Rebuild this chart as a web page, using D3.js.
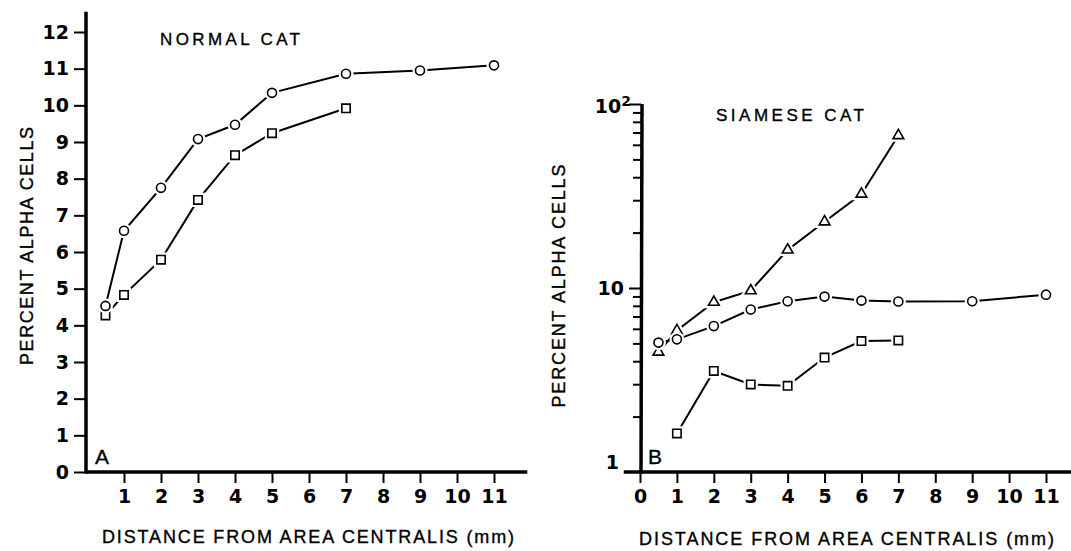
<!DOCTYPE html>
<html>
<head>
<meta charset="utf-8">
<script src="https://cdn.jsdelivr.net/npm/d3@7"></script>
<style>
  body { margin: 0; background: #fff; }
  svg { display: block; }
  .tickLabel { font-family: "DejaVu Sans", sans-serif; font-weight: bold; font-size: 19px; fill: #000; }
  .axisText { font-family: "Liberation Sans", Arial, sans-serif; fill: #000; stroke: #000; stroke-width: 0.35px; }
</style>
</head>
<body>
<div class="chart"></div>
<script>
// panel A: normal cat (linear y)
var distNormalCircle = [0.5, 1, 2, 3, 4, 5, 7, 9, 11];
var normalCircle = [4.53, 6.58, 7.75, 9.08, 9.47, 10.34, 10.86, 10.95, 11.09];
var distNormalSquare = [0.5, 1, 2, 3, 4, 5, 7];
var normalSquare = [4.27, 4.83, 5.79, 7.42, 8.64, 9.24, 9.92];

// panel B: siamese cat (log y)
var distSiameseTriangle = [0.5, 1, 2, 3, 4, 5, 6, 7];
var siameseTriangle = [4.49, 5.87, 8.37, 9.67, 16.1, 22.9, 32.4, 67.4];
var distSiameseCircle = [0.5, 1, 2, 3, 4, 5, 6, 7, 9, 11];
var siameseCircle = [5.05, 5.26, 6.21, 7.64, 8.47, 8.98, 8.54, 8.44, 8.47, 9.2];
var distSiameseSquare = [1, 2, 3, 4, 5, 6, 7];
var siameseSquare = [1.62, 3.54, 2.99, 2.94, 4.19, 5.15, 5.19];

var xTicksA = [1, 2, 3, 4, 5, 6, 7, 8, 9, 10, 11];
var yTicksA = [0, 1, 2, 3, 4, 5, 6, 7, 8, 9, 10, 11, 12];
var xTicksB = [0, 1, 2, 3, 4, 5, 6, 7, 8, 9, 10, 11];
var yMajorB = [1, 10, 100];
var yMinorB = [2, 3, 4, 5, 6, 7, 8, 9, 20, 30, 40, 50, 60, 70, 80, 90];

var svgWidth = 1071;
var svgHeight = 551;

var svg = d3.select(".chart")
  .append("svg")
  .attr("width", svgWidth)
  .attr("height", svgHeight);

// scales
var xA = d3.scaleLinear().domain([0, 11]).range([87, 494]);
var yA = d3.scaleLinear().domain([0, 12]).range([472, 32]);
var xB = d3.scaleLinear().domain([0, 11]).range([640, 1046]);
var yB = d3.scaleLog().domain([1, 100]).range([472, 104]);

function zip(xs, ys) {
  return xs.map((x, i) => ({x: x, y: ys[i]}));
}

function styleAxis(g) {
  g.select(".domain").remove();
  g.selectAll(".tick line").attr("stroke", "#000").attr("stroke-width", 2);
  g.selectAll(".tick text").attr("class", "tickLabel");
}

// ---- panel A axes
var gA = svg.append("g");

gA.append("g")
  .attr("transform", `translate(0, ${yA(0)})`)
  .call(d3.axisBottom(xA).tickValues(xTicksA).tickSize(11).tickPadding(7).tickFormat(d3.format("d")))
  .call(styleAxis);

gA.append("g")
  .attr("transform", `translate(${xA(0) - 1}, 0)`)
  .call(d3.axisLeft(yA).tickValues(yTicksA).tickSize(12).tickPadding(5).tickFormat(d3.format("d")))
  .call(styleAxis);

gA.append("line")
  .attr("x1", xA(-0.03)).attr("x2", xA(11.9))
  .attr("y1", yA(0)).attr("y2", yA(0))
  .attr("stroke", "#000").attr("stroke-width", 3.5);

gA.append("line")
  .attr("x1", xA(0) - 1).attr("x2", xA(0) - 1)
  .attr("y1", yA(0) + 1.5).attr("y2", yA(12.55))
  .attr("stroke", "#000").attr("stroke-width", 3.5);

// ---- panel B axes
var gB = svg.append("g");

gB.append("g")
  .attr("transform", `translate(0, ${yB(1)})`)
  .call(d3.axisBottom(xB).tickValues(xTicksB).tickSize(11).tickPadding(7).tickFormat(d3.format("d")))
  .call(styleAxis);

gB.append("g")
  .attr("transform", `translate(${xB(0) + 1}, 0)`)
  .call(d3.axisLeft(yB).tickValues(yMinorB).tickSize(8).tickFormat(""))
  .call(styleAxis);

var majorAxisB = gB.append("g")
  .attr("transform", `translate(${xB(0) + 1}, 0)`)
  .call(d3.axisLeft(yB).tickValues(yMajorB).tickSize(12).tickPadding(5).tickFormat(d => d === 100 ? "" : d3.format("d")(d)))
  .call(styleAxis);

// the "1" tick coincides with the x axis: no tick line, label sits a bit higher
majorAxisB.selectAll(".tick").filter(d => d === 1).select("line").remove();
majorAxisB.selectAll(".tick").filter(d => d === 1).select("text").attr("dy", "-0.2em").attr("x", -22);

// 10^2 label with superscript
var topLabel = majorAxisB.selectAll(".tick").filter(d => d === 100).select("text")
  .attr("x", -10).attr("dy", "0.45em");
topLabel.append("tspan").text("10");
topLabel.append("tspan").attr("dy", "-0.5em").attr("font-size", "14px").text("2");

gB.append("line")
  .attr("x1", xB(-0.44)).attr("x2", xB(11.8))
  .attr("y1", yB(1)).attr("y2", yB(1))
  .attr("stroke", "#000").attr("stroke-width", 3.5);

gB.append("line")
  .attr("x1", xB(0) + 1).attr("x2", xB(0) + 2)
  .attr("y1", yB(1) + 1.5).attr("y2", yB(100))
  .attr("stroke", "#000").attr("stroke-width", 3.5);

// ---- series
function drawSeries(g, data, xs, ys, shape) {
  var line = d3.line().x(d => xs(d.x)).y(d => ys(d.y));
  g.append("path")
    .datum(data)
    .attr("d", line)
    .attr("fill", "none")
    .attr("stroke", "#000")
    .attr("stroke-width", 2);

  var sym = d3.symbol()
    .type(shape === "circle" ? d3.symbolCircle : shape === "square" ? d3.symbolSquare : d3.symbolTriangle)
    .size(shape === "circle" ? 64 : shape === "square" ? 70 : 50);

  // white halo leaves a gap between line and marker
  g.selectAll(null)
    .data(data)
    .enter()
    .append("path")
    .attr("d", sym)
    .attr("transform", d => `translate(${xs(d.x)}, ${ys(d.y)})`)
    .attr("fill", "#fff")
    .attr("stroke", "#fff")
    .attr("stroke-width", 6);

  g.selectAll(null)
    .data(data)
    .enter()
    .append("path")
    .attr("d", sym)
    .attr("transform", d => `translate(${xs(d.x)}, ${ys(d.y)})`)
    .attr("fill", "#fff")
    .attr("stroke", "#000")
    .attr("stroke-width", 1.6);
}

drawSeries(gA, zip(distNormalSquare, normalSquare), xA, yA, "square");
drawSeries(gA, zip(distNormalCircle, normalCircle), xA, yA, "circle");

drawSeries(gB, zip(distSiameseSquare, siameseSquare), xB, yB, "square");
drawSeries(gB, zip(distSiameseTriangle, siameseTriangle), xB, yB, "triangle");
drawSeries(gB, zip(distSiameseCircle, siameseCircle), xB, yB, "circle");

// ---- text
gA.append("text")
  .attr("class", "axisText")
  .attr("x", 160).attr("y", 45)
  .attr("font-size", "17px")
  .attr("textLength", 140).attr("lengthAdjust", "spacing")
  .text("NORMAL  CAT");

gB.append("text")
  .attr("class", "axisText")
  .attr("x", 716).attr("y", 121)
  .attr("font-size", "17px")
  .attr("textLength", 148).attr("lengthAdjust", "spacing")
  .text("SIAMESE  CAT");

gA.append("text")
  .attr("class", "axisText")
  .attr("x", 95).attr("y", 464)
  .attr("font-size", "21px")
  .text("A");

gB.append("text")
  .attr("class", "axisText")
  .attr("x", 648).attr("y", 464)
  .attr("font-size", "21px")
  .text("B");

gA.append("text")
  .attr("class", "axisText")
  .attr("x", 102).attr("y", 543)
  .attr("font-size", "18px")
  .attr("textLength", 412).attr("lengthAdjust", "spacing")
  .text("DISTANCE  FROM  AREA  CENTRALIS  (mm)");

gB.append("text")
  .attr("class", "axisText")
  .attr("x", 639).attr("y", 545)
  .attr("font-size", "18px")
  .attr("textLength", 415).attr("lengthAdjust", "spacing")
  .text("DISTANCE  FROM  AREA  CENTRALIS  (mm)");

gA.append("text")
  .attr("class", "axisText")
  .attr("transform", "translate(33, 246) rotate(-90)")
  .attr("text-anchor", "middle")
  .attr("font-size", "18px")
  .attr("textLength", 238).attr("lengthAdjust", "spacing")
  .text("PERCENT  ALPHA  CELLS");

gB.append("text")
  .attr("class", "axisText")
  .attr("transform", "translate(565, 286) rotate(-90)")
  .attr("text-anchor", "middle")
  .attr("font-size", "18px")
  .attr("textLength", 243).attr("lengthAdjust", "spacing")
  .text("PERCENT  ALPHA  CELLS");
</script>
</body>
</html>
